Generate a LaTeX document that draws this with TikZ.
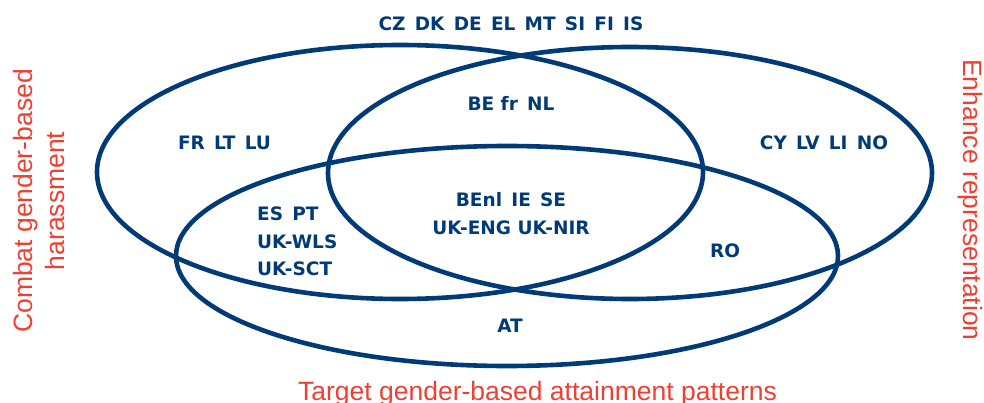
\documentclass[tikz,border=0pt]{standalone}
\usepackage{fontspec}
\usepackage{xcolor}
\usepackage{tikz}
\setmainfont{Liberation Sans}
\newfontfamily\countryfont{DejaVu Sans}
\definecolor{vennBlue}{RGB}{0, 59, 119}
\definecolor{goalRed}{RGB}{238, 64, 50}
\usetikzlibrary{positioning}
\newcommand{\gap}{\hspace{0.5em}}
\tikzset{
    ring/.style={draw=vennBlue, line width=4.6pt},
    country/.style={text=vennBlue, inner sep=0pt,
        font=\countryfont\bfseries\fontsize{18.5}{27.5}\selectfont},
    goal/.style={text=goalRed, inner sep=0pt, align=center,
        font=\fontsize{26.5}{31.8}\selectfont}
}

\begin{document}
\begin{tikzpicture}[x=1pt, y=-1pt]
    \useasboundingbox (0,0) rectangle (984,403);

    % the three goals
    \draw[ring] (400,172) ellipse [x radius=303, y radius=127];
    \draw[ring] (630,173) ellipse [x radius=302, y radius=126];
    \draw[ring] (507,256) ellipse [x radius=331, y radius=110];

    \node[goal, rotate=90] (harass) at (39.3,201) {Combat gender-based\\harassment};
    \node[goal, rotate=-90] (repr) at (970,200) {Enhance representation};
    \node[goal, anchor=base] (attain) at (537.5,400.5) {Target gender-based attainment patterns};

    % countries
    \node[country] (none) at (511,24) {CZ\gap DK\gap DE\gap EL\gap MT\gap SI\gap FI\gap IS};
    \node[country] (onlyH) at (224.5,143) {FR\gap LT\gap LU};
    \node[country] (onlyR) at (824,143) {CY\gap LV\gap LI\gap NO};
    \node[country] (hr) at (511,103) {BE fr\gap NL};
    \node[country, align=center] (all) at (511,213.5) {BEnl\gap IE\gap SE\\UK-ENG UK-NIR};
    \node[country, align=left, anchor=west] (ha) at (257,241.5) {ES\gap PT\\UK-WLS\\UK-SCT};
    \node[country] (ra) at (725,251) {RO};
    \node[country] (onlyA) at (510,326) {AT};
\end{tikzpicture}
\end{document}
